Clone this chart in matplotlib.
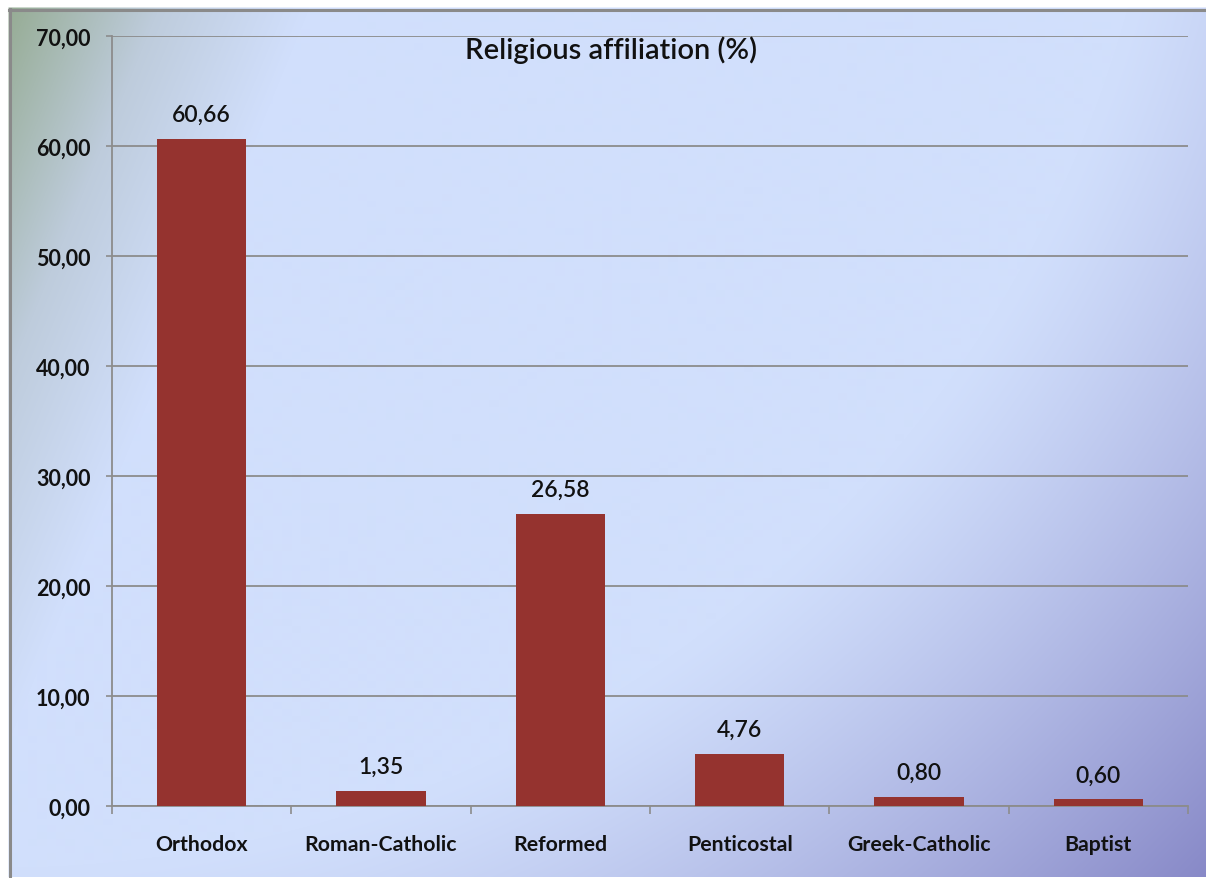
import numpy as np
import matplotlib.pyplot as plt

religions = ['Orthodox', 'Roman-Catholic', 'Reformed', 'Penticostal', 'Greek-Catholic', 'Baptist']
percent = [60.66, 1.35, 26.58, 4.76, 0.80, 0.60]
y_ticks = [0, 10, 20, 30, 40, 50, 60, 70]
title = 'Religious affiliation (%)'

plt.rcParams['font.family'] = ['Lato', 'DejaVu Sans']

W, H = 1206, 879
fig = plt.figure(figsize=(W / 100, H / 100), dpi=100)


def comma(v):
    return f'{v:.2f}'.replace('.', ',')


# background: pale blue with a purple radial falloff and a green top-left corner
yy, xx = np.mgrid[0:H, 0:W].astype(float)
light = np.array([209, 223, 252]) / 255
purple = np.array([128, 128, 194]) / 255
green = np.array([150, 172, 148]) / 255
greyblue = np.array([190, 204, 220]) / 255

d = np.hypot(xx, yy + 300)
t = np.clip((d - 1170) / 560, 0, 1)[..., None] ** 1.2
img = light * (1 - t) + purple * t

s = (xx - 9) + 0.41 * (yy - 10)
g1 = np.clip(s / 150, 0, 1)[..., None]
g2 = np.clip((s - 150) / 150, 0, 1)[..., None]
corner = green * (1 - g1) + greyblue * g1
img = corner * (1 - g2) + img * g2

img[:10, :] = 1.0
img[:, :9] = 1.0

bg = fig.add_axes([0, 0, 1, 1])
bg.imshow(img, aspect='auto', interpolation='bilinear')
bg.set_xlim(0, W)
bg.set_ylim(H, 0)
bg.plot([9, W], [10.5, 10.5], color='#8a8a8a', lw=2.2)
bg.plot([9.5, 9.5], [10, H], color='#8a8a8a', lw=2.2)
bg.axis('off')

# chart area
x0, x1, ytop, ybot = 112, 1188, 37, 807
ax = fig.add_axes([x0 / W, 1 - ybot / H, (x1 - x0) / W, (ybot - ytop) / H])
ax.patch.set_alpha(0)

x = np.arange(len(religions))
ax.bar(x, percent, width=0.5, color='#95332F', zorder=3)

for xi, v in zip(x, percent):
    ax.annotate(comma(v), (xi, v), xytext=(0, 13), textcoords='offset points',
                ha='center', va='baseline', fontsize=16.5, fontweight='semibold',
                color='#111111')

ax.set_xlim(-0.5, len(religions) - 0.5)
ax.set_ylim(0, 70)
ax.set_yticks(y_ticks)
ax.set_yticklabels([comma(v) for v in y_ticks])
ax.set_xticks(x)
ax.set_xticklabels(religions)
ax.set_xticks(np.arange(-0.5, len(religions)), minor=True)

ax.tick_params(axis='x', which='major', length=0, pad=20, labelsize=15.3)
ax.tick_params(axis='x', which='minor', length=5.5, width=1.2, color='#8c8c8c', direction='out')
ax.tick_params(axis='y', length=4.5, width=1.2, color='#8c8c8c', pad=11, labelsize=15.5)
for lbl in ax.get_xticklabels() + ax.get_yticklabels():
    lbl.set_fontweight('bold')
    lbl.set_color('#111111')

ax.grid(axis='y', color='#8c8c8c', lw=1.3, zorder=1)
for side in ['top', 'right']:
    ax.spines[side].set_visible(False)
for side in ['left', 'bottom']:
    ax.spines[side].set_color('#8c8c8c')
    ax.spines[side].set_linewidth(1.3)

fig.text(611 / W, 1 - 50 / H, title, ha='center', va='center',
         fontsize=21, fontweight='semibold', color='#111111')

fig.savefig('out.png', dpi=100)
